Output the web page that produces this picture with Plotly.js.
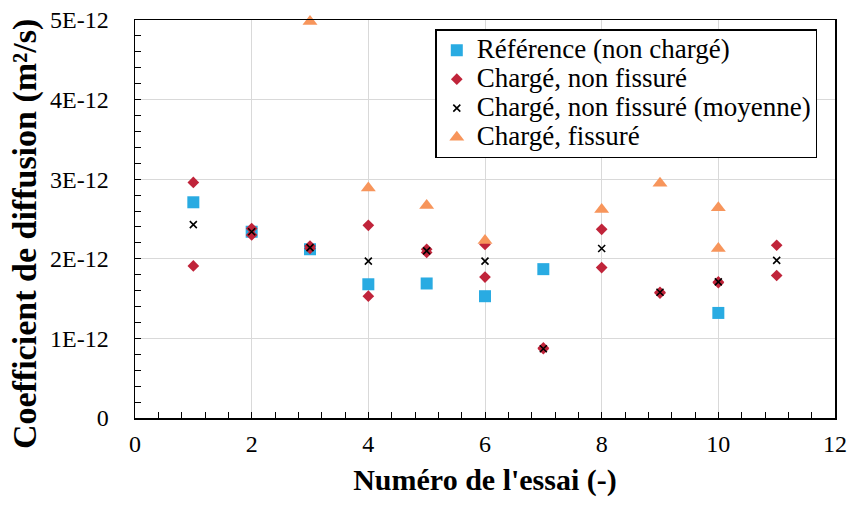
<!DOCTYPE html>
<html>
<head>
<meta charset="utf-8">
<script src="https://cdn.plot.ly/plotly-3.0.1.min.js"></script>
<style>
html,body{margin:0;padding:0;background:#fff}
#chart svg text{font-family:'Liberation Serif',serif !important;}
</style>
</head>
<body>
<div id="chart" style="width:850px;height:507px"></div>
<script>
// Data (values in units of 1E-12 m²/s, scaled below)
const refX = [1, 2, 3, 4, 5, 6, 7, 10];
const refY = [2.71, 2.34, 2.12, 1.68, 1.69, 1.53, 1.87, 1.32];

const cnfX = [1, 1, 2, 2, 3, 3, 4, 4, 5, 5, 6, 6, 7, 7, 8, 8, 9, 9, 10, 10, 11, 11];
const cnfY = [2.96, 1.91, 2.38, 2.30, 2.16, 2.13, 2.42, 1.53, 2.12, 2.08, 2.18, 1.77, 0.88, 0.87, 2.37, 1.89, 1.58, 1.57, 1.71, 1.70, 2.17, 1.79];

const moyX = [1, 2, 3, 4, 5, 6, 7, 8, 9, 10, 11];
const moyY = [2.43, 2.34, 2.14, 1.97, 2.10, 1.97, 0.87, 2.13, 1.58, 1.71, 1.98];

const fisX = [3, 4, 5, 6, 8, 9, 10, 10, 11];
const fisY = [4.98, 2.89, 2.67, 2.23, 2.62, 2.95, 2.64, 2.13, 3.33];

const yTickVals = [0, 1, 2, 3, 4, 5];
const yTickText = ['0', '1E-12', '2E-12', '3E-12', '4E-12', '5E-12'];
const xTickVals = [0, 2, 4, 6, 8, 10, 12];

const names = ['Référence (non chargé)', 'Chargé, non fissuré', 'Chargé, non fissuré (moyenne)', 'Chargé, fissuré'];
const xTitle = "Numéro de l'essai (-)";
const yTitle = 'Coefficient de diffusion (m²/s)';

const sc = v => v.map(d => d * 1e-12);
const SERIF = 'Liberation Serif';
const leg = s => '<span style="font-size:27px">' + s + '</span>';

function draw() {
  const traces = [
    {x: refX, y: sc(refY), name: leg(names[0]), type: 'scatter', mode: 'markers', cliponaxis: false,
     marker: {symbol: 'square', size: 12, color: '#29abe2'}},
    {x: cnfX, y: sc(cnfY), name: leg(names[1]), type: 'scatter', mode: 'markers', cliponaxis: false,
     marker: {symbol: 'diamond', size: 9, color: '#c0243a'}},
    {x: moyX, y: sc(moyY), name: leg(names[2]), type: 'scatter', mode: 'markers', cliponaxis: false,
     marker: {symbol: 'x-thin-open', size: 7, color: '#000', line: {color: '#000', width: 1.6}}},
    {x: fisX, y: sc(fisY), name: leg(names[3]), type: 'scatter', mode: 'markers', cliponaxis: false,
     marker: {symbol: 'triangle-up', size: 13, color: '#f7955b'}}
  ];

  const layout = {
    width: 850, height: 507,
    margin: {l: 135, r: 15, t: 20, b: 89},
    paper_bgcolor: '#fff', plot_bgcolor: '#fff',
    font: {family: SERIF, color: '#000', size: 24},
    showlegend: true,
    legend: {
      x: 0.429, y: 0.977, xanchor: 'left', yanchor: 'top',
      bgcolor: '#fff', bordercolor: '#000', borderwidth: 1.5,
      font: {family: SERIF, size: 20, color: '#000'},
      tracegroupgap: 0
    },
    xaxis: {
      range: [0, 12], tickvals: xTickVals, ticktext: xTickVals.map(String),
      showgrid: true, gridcolor: '#d9d9d9', gridwidth: 1,
      showline: true, linecolor: '#000', linewidth: 1.5, mirror: true,
      ticks: 'inside', ticklen: 6, tickcolor: '#000', tickwidth: 1,
      minor: {dtick: 0.4, tick0: 0, ticks: 'inside', ticklen: 6, tickcolor: '#000', showgrid: false},
      zeroline: false, ticklabelstandoff: 4,
      tickfont: {family: SERIF, size: 24, color: '#000'},
      title: {text: '<b>' + xTitle + '</b>', font: {family: SERIF, size: 30, color: '#000'}, standoff: 12}
    },
    yaxis: {
      range: [0, 5e-12], tickvals: sc(yTickVals), ticktext: yTickText,
      showgrid: true, gridcolor: '#d9d9d9', gridwidth: 1,
      showline: true, linecolor: '#000', linewidth: 1.5, mirror: true,
      ticks: 'inside', ticklen: 6, tickcolor: '#000', tickwidth: 1,
      minor: {dtick: 0.2e-12, tick0: 0, ticks: 'inside', ticklen: 6, tickcolor: '#000', showgrid: false},
      zeroline: false, ticklabelstandoff: 20,
      tickfont: {family: SERIF, size: 24, color: '#000'}
    },
    annotations: [{
      text: '<b>' + yTitle + '</b>', textangle: -90, showarrow: false,
      xref: 'paper', yref: 'paper', x: 0, y: 0.462, xanchor: 'center', yanchor: 'middle',
      xshift: -110, font: {family: SERIF, size: 34, color: '#000'}
    }]
  };

  Plotly.newPlot('chart', traces, layout, {displayModeBar: false, staticPlot: true});
}

let drawn = false;
function go() { if (!drawn) { drawn = true; draw(); } }
if (document.fonts && document.fonts.load) {
  Promise.all([
    document.fonts.load('24px "Liberation Serif"'),
    document.fonts.load('bold 30px "Liberation Serif"')
  ]).then(go, go);
  setTimeout(go, 300);
} else {
  go();
}
</script>
</body>
</html>
